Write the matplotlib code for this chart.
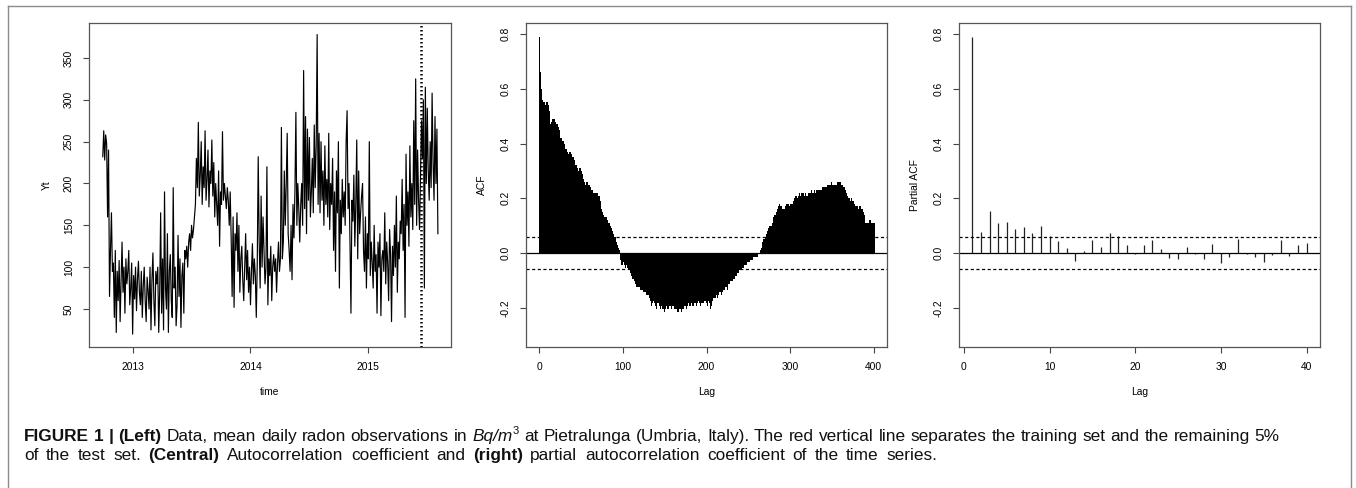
import numpy as np
import pandas as pd
import matplotlib
matplotlib.use("Agg")
import matplotlib.pyplot as plt

plt.rcParams['font.family'] = ['Liberation Sans', 'DejaVu Sans']

# daily radon series, read every third day off the picture (Bq/m^3)
radon = [
    232, 263, 228, 258, 248, 160, 240, 65, 120, 165, 95,
    105, 40, 120, 22, 95, 60, 108, 35, 85, 130, 70, 100, 45, 110, 80, 95, 120, 55, 75,
    105, 20, 90, 62, 100, 48, 85, 107, 70, 55, 95, 40, 78, 100, 60, 35, 88, 72, 50,
    100, 25, 85, 117, 60, 30, 95, 80, 100, 22, 70, 165, 45, 110, 25, 190, 75, 50, 140,
    22, 95, 115, 60, 40, 195, 75, 100, 30, 55, 138, 65, 110, 28, 90, 105, 45, 120,
    110, 125, 100, 130, 140, 120, 150, 135, 145, 160, 175,
    230, 195, 273, 185, 210, 250, 175, 220, 195, 263, 180, 205, 240, 172, 215, 200, 252,
    185, 225, 160, 200,
    175, 150, 215, 125, 190, 175, 262, 180, 200, 185, 170, 195, 180, 150, 190, 135, 65,
    160, 52, 140,
    120, 165, 95, 150, 70, 110, 125, 85, 60, 100, 140,
    85, 120, 70, 100, 55, 95, 128, 80, 110, 90, 40, 105, 232, 130, 75, 185, 100, 160,
    120, 80, 98,
    220, 55, 110, 90, 125, 60, 100, 115, 95, 110, 70, 105, 130, 95, 110,
    267, 110, 130, 215, 150, 200, 260, 140, 120, 95, 150, 85, 175, 135, 190, 285, 150,
    200, 170, 130, 175,
    200, 150, 335, 170, 280, 140, 265, 180, 255, 160, 190, 230, 165, 270, 195, 245, 378,
    175, 260, 165, 250,
    180, 215, 150, 245, 175, 205, 160, 260, 145, 200, 175, 230, 120, 190, 95, 215, 165,
    250, 75, 180, 140, 205, 160, 190, 150, 250,
    287, 170, 200, 130, 45, 180, 155, 210, 125, 175, 252, 110, 215, 140, 165, 185,
    200, 120, 95, 160, 75, 140, 110, 250, 90, 130, 105, 75, 150, 95, 115, 45, 130, 100,
    140, 42, 110,
    120, 95, 165, 80, 130, 105, 60, 145, 115, 35, 125, 90, 150, 100, 185, 70, 130, 110, 155,
    140, 205, 120, 175, 40, 235, 150, 190, 125, 245, 160, 200, 145, 275, 175, 325, 150,
    240, 180, 145, 210,
    275, 230, 300, 75, 315, 200, 290, 215, 180, 250, 195, 308, 225, 180, 280, 200, 265, 140,
]
start_date = "2012-09-29"
split_date = "2015-06-13"   # training / test split

acf_vals = [
    0.79, 0.66, 0.60, 0.56, 0.55, 0.55, 0.54, 0.54, 0.55, 0.55, 0.54, 0.52, 0.47, 0.47, 0.48, 0.49, 0.49, 0.49, 0.48, 0.48,
    0.47, 0.47, 0.46, 0.45, 0.43, 0.42, 0.42, 0.41, 0.41, 0.40, 0.39, 0.38, 0.38, 0.37, 0.36, 0.36, 0.37, 0.37, 0.36, 0.35,
    0.35, 0.34, 0.33, 0.32, 0.32, 0.31, 0.30, 0.30, 0.31, 0.31, 0.30, 0.29, 0.27, 0.26, 0.26, 0.25, 0.26, 0.26, 0.25, 0.25,
    0.24, 0.23, 0.23, 0.23, 0.22, 0.22, 0.22, 0.22, 0.22, 0.22, 0.21, 0.21, 0.19, 0.17, 0.16, 0.15, 0.14, 0.13, 0.13, 0.12,
    0.13, 0.12, 0.11, 0.11, 0.10, 0.10, 0.09, 0.08, 0.07, 0.06, 0.06, 0.05, 0.04, 0.03, 0.02, 0.01, 0.00, -0.02, -0.04, -0.04,
    -0.03, -0.04, -0.04, -0.05, -0.04, -0.05, -0.06, -0.06, -0.07, -0.07, -0.08, -0.09, -0.09, -0.10, -0.10, -0.11, -0.12, -0.12, -0.12, -0.12,
    -0.12, -0.13, -0.13, -0.13, -0.14, -0.14, -0.13, -0.14, -0.15, -0.15, -0.15, -0.16, -0.17, -0.18, -0.19, -0.18, -0.17, -0.18, -0.19, -0.20,
    -0.19, -0.18, -0.18, -0.19, -0.20, -0.19, -0.19, -0.20, -0.20, -0.21, -0.20, -0.19, -0.19, -0.20, -0.20, -0.19, -0.19, -0.20, -0.20, -0.19,
    -0.19, -0.20, -0.20, -0.19, -0.20, -0.21, -0.21, -0.20, -0.20, -0.21, -0.21, -0.20, -0.20, -0.19, -0.19, -0.20, -0.19, -0.19, -0.18, -0.19,
    -0.19, -0.18, -0.18, -0.19, -0.19, -0.18, -0.18, -0.19, -0.19, -0.18, -0.17, -0.18, -0.19, -0.18, -0.17, -0.18, -0.18, -0.17, -0.17, -0.18,
    -0.19, -0.18, -0.17, -0.18, -0.20, -0.19, -0.17, -0.17, -0.16, -0.16, -0.16, -0.15, -0.15, -0.16, -0.15, -0.14, -0.14, -0.15, -0.14, -0.13,
    -0.13, -0.13, -0.12, -0.12, -0.13, -0.12, -0.11, -0.11, -0.10, -0.10, -0.10, -0.09, -0.09, -0.09, -0.08, -0.08, -0.07, -0.07, -0.07, -0.06,
    -0.06, -0.06, -0.05, -0.05, -0.05, -0.04, -0.04, -0.04, -0.03, -0.03, -0.03, -0.03, -0.02, -0.02, -0.02, -0.02, -0.01, -0.01, -0.01, -0.01,
    -0.01, -0.01, 0.00, 0.00, 0.01, 0.02, 0.03, 0.04, 0.05, 0.05, 0.06, 0.07, 0.08, 0.08, 0.09, 0.10, 0.10, 0.10, 0.11, 0.12,
    0.13, 0.14, 0.14, 0.15, 0.16, 0.17, 0.17, 0.18, 0.17, 0.17, 0.16, 0.16, 0.15, 0.16, 0.17, 0.18, 0.18, 0.18, 0.18, 0.17,
    0.18, 0.18, 0.18, 0.18, 0.19, 0.20, 0.21, 0.21, 0.20, 0.21, 0.21, 0.22, 0.21, 0.22, 0.22, 0.22, 0.22, 0.21, 0.22, 0.21,
    0.21, 0.21, 0.22, 0.22, 0.22, 0.23, 0.22, 0.22, 0.22, 0.23, 0.22, 0.23, 0.23, 0.23, 0.22, 0.23, 0.23, 0.23, 0.24, 0.23,
    0.24, 0.24, 0.24, 0.24, 0.25, 0.25, 0.24, 0.25, 0.25, 0.26, 0.25, 0.25, 0.24, 0.25, 0.25, 0.25, 0.26, 0.26, 0.25, 0.26,
    0.26, 0.25, 0.25, 0.24, 0.24, 0.24, 0.23, 0.22, 0.21, 0.20, 0.20, 0.20, 0.19, 0.20, 0.19, 0.19, 0.18, 0.17, 0.17, 0.17,
    0.17, 0.16, 0.16, 0.17, 0.17, 0.16, 0.16, 0.15, 0.14, 0.12, 0.11, 0.11, 0.11, 0.11, 0.12, 0.12, 0.12, 0.11, 0.11, 0.11, 0.11,
]

pacf_vals = [
    0.79, 0.077, 0.155, 0.11, 0.114, 0.088, 0.095, 0.073, 0.097, 0.061,
    0.045, 0.018, -0.028, 0.006, 0.049, 0.022, 0.073, 0.061, 0.028, -0.002,
    0.030, 0.046, 0.015, -0.019, -0.022, 0.021, -0.004, -0.021, 0.032, -0.036,
    -0.016, 0.052, -0.005, -0.015, -0.032, -0.006, 0.046, -0.012, 0.028, 0.036,
]

ci = 0.06  # 95% band


def decimal_year(d):
    d = pd.DatetimeIndex(d)
    ndays = np.where(d.is_leap_year, 366, 365)
    return d.year + (d.dayofyear - 1) / ndays


dates = pd.date_range(start_date, periods=len(radon), freq="3D")
t = decimal_year(dates)
t_split = decimal_year([split_date])[0]

W, H = 1356, 488
fig = plt.figure(figsize=(W / 100, H / 100), dpi=100)


def px_axes(x0, x1, y0, y1):
    return fig.add_axes([x0 / W, 1 - y1 / H, (x1 - x0) / W, (y1 - y0) / H])


ax1 = px_axes(89, 451, 23, 347)
ax2 = px_axes(526, 887, 23, 347)
ax3 = px_axes(959, 1320, 23, 347)

for ax in (ax1, ax2, ax3):
    for sp in ax.spines.values():
        sp.set_color("#555555")
        sp.set_linewidth(0.9)
    ax.tick_params(direction="out", length=4.3, width=0.8, color="#444444",
                   labelsize=7.4, pad=6.5)

# left: time series
ax1.plot(t, radon, color="black", lw=0.85)
ax1.axvline(t_split, color="black", lw=1.8, linestyle=(0, (0.6, 1.0)))
ax1.set_xlim(2012.626, 2015.706)
ax1.set_ylim(4.6, 391.8)
ax1.set_xticks([2013, 2014, 2015])
ax1.set_yticks([50, 100, 150, 200, 250, 300, 350])
ax1.set_xlabel("time", fontsize=7.4, va="center")
ax1.set_ylabel("Yt", fontsize=7.4, va="center")
ax1.xaxis.set_label_coords(0.5, (347 - 392) / 324)
ax1.yaxis.set_label_coords((47 - 89) / 362, 0.5)

# middle: ACF
lags = np.arange(len(acf_vals))
ax2.vlines(lags, 0, acf_vals, color="black", lw=0.72, antialiased=False)
ax2.set_xlim(-16, 416)
ax2.set_xticks([0, 100, 200, 300, 400])
ax2.set_ylabel("ACF", fontsize=7.4, va="center")
ax2.yaxis.set_label_coords((482 - 526) / 361, 0.5)

# right: PACF
plags = np.arange(1, len(pacf_vals) + 1)
ax3.vlines(plags, 0, pacf_vals, color="#222222", lw=0.9)
ax3.set_xlim(-0.56, 41.56)
ax3.set_xticks([0, 10, 20, 30, 40])
ax3.set_ylabel("Partial ACF", fontsize=7.4, va="center")
ax3.yaxis.set_label_coords((915 - 959) / 361, 0.5)

for ax in (ax2, ax3):
    ax.axhline(0, color="black", lw=0.9)
    ax.axhline(ci, color="black", lw=0.9, linestyle=(0, (2.5, 2)))
    ax.axhline(-ci, color="black", lw=0.9, linestyle=(0, (2.5, 2)))
    ax.set_ylim(-0.343, 0.840)
    ax.set_yticks([-0.2, 0.0, 0.2, 0.4, 0.6, 0.8])
    ax.set_yticklabels(["%.1f" % v for v in [-0.2, 0.0, 0.2, 0.4, 0.6, 0.8]])
    ax.set_xlabel("Lag", fontsize=7.4, va="center")
    ax.xaxis.set_label_coords(0.5, (347 - 392) / 324)

for ax in (ax1, ax2, ax3):
    for lab in ax.get_yticklabels():
        lab.set_rotation(90)
        lab.set_va("center")

# frame round the whole figure
frame = dict(color="#8a8a8a", lw=1.0, transform=None)
fig.add_artist(plt.Line2D([8, 1351], [H - 6, H - 6], **frame))
fig.add_artist(plt.Line2D([8, 8], [0, H - 6], **frame))
fig.add_artist(plt.Line2D([1351, 1351], [0, H - 6], **frame))

# caption, drawn word by word so the spacing can be stretched
renderer = fig.canvas.get_renderer()
cap_size = 12.4


def draw_runs(x, y, runs, extra=0.0):
    for s, style in runs:
        kw = dict(fontsize=cap_size, va="baseline", ha="left", color="#111111")
        dy = 0
        if style == "b":
            kw["fontweight"] = "bold"
        elif style == "i":
            kw["fontstyle"] = "italic"
        elif style == "sup":
            kw["fontsize"] = cap_size * 0.65
            dy = 7
        parts = s.split(" ")
        for k, word in enumerate(parts):
            if word:
                txt = fig.text(x, y + dy, word, transform=None, **kw)
                x += txt.get_window_extent(renderer).width
            if k < len(parts) - 1:
                sp = fig.text(0, 0, "a a", transform=None, **kw)
                a = fig.text(0, 0, "aa", transform=None, **kw)
                x += (sp.get_window_extent(renderer).width
                      - a.get_window_extent(renderer).width) + extra
                sp.remove()
                a.remove()


line1 = [
    ("FIGURE 1 | (Left)", "b"),
    (" Data, mean daily radon observations in ", "n"),
    ("Bq/m", "i"),
    ("3", "sup"),
    (" at Pietralunga (Umbria, Italy). The red vertical line separates the training set and the remaining 5%", "n"),
]
line2 = [
    ("of the test set. ", "n"),
    ("(Central)", "b"),
    (" Autocorrelation coefficient and ", "n"),
    ("(right)", "b"),
    (" partial autocorrelation coefficient of the time series.", "n"),
]
draw_runs(24, H - 441, line1, extra=0.2)
draw_runs(24, H - 460, line2, extra=2.8)

fig.savefig("out.png", dpi=100)
